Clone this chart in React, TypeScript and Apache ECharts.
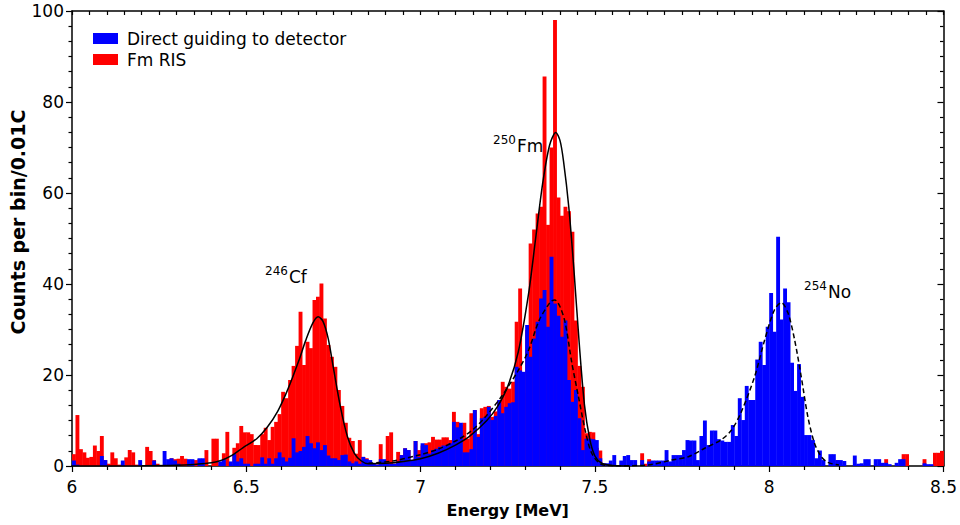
import React, { useEffect, useRef } from 'react';
import * as echarts from 'echarts';

// Histogram bins: 0.01 MeV wide, starting at 6.00 MeV
const BIN_START = 6.0;
const BIN_WIDTH = 0.01;

// Fm RIS counts per bin (red)
const fmRis: number[] = [
  2.6, 11.2, 3.7, 3.0, 1.8, 2.0, 4.5, 3.3, 6.6, 1.3,
  0.5, 3.0, 1.7, 0.3, 0, 1.9, 3.5, 3.0, 0.3, 0,
  0, 4.2, 3.3, 1.3, 0.5, 0, 0, 0, 1.7, 1.5,
  1.6, 2.2, 1.6, 0, 0, 1.3, 1.5, 0, 3.5, 0,
  6.0, 6.0, 0, 2.8, 7.5, 0, 4.0, 5.0, 8.8, 7.4,
  7.4, 7.0, 4.6, 4.6, 7.0, 8.4, 5.7, 8.6, 9.7, 11.4,
  16.3, 14.9, 18.9, 22.0, 26.4, 33.9, 22.2, 27.3, 25.9, 36.5,
  37.2, 40.1, 32.4, 26.6, 24.0, 21.8, 16.7, 13.2, 9.5, 6.2,
  5.5, 2.7, 5.7, 2.0, 1.7, 0.5, 0.5, 0.3, 4.8, 1.0,
  6.6, 7.4, 0.5, 3.1, 2.4, 3.9, 3.5, 1.3, 5.5, 3.5,
  4.5, 5.0, 5.2, 6.4, 5.8, 5.8, 6.3, 6.3, 5.7, 11.9,
  9.7, 9.0, 9.5, 6.0, 11.6, 12.3, 7.0, 12.7, 13.0, 13.2,
  10.8, 12.0, 14.5, 18.5, 17.4, 17.0, 18.5, 31.7, 39.0, 16.0,
  29.9, 48.9, 52.0, 55.5, 57.0, 85.6, 53.0, 70.0, 98.0, 59.0,
  55.0, 57.0, 56.0, 51.5, 32.0, 22.0, 17.4, 7.2, 7.5, 7.4,
  4.0, 3.4, 0.5, 0, 0, 0, 0, 0, 0, 0,
  0, 0, 0, 2.8, 0.5, 1.5, 0, 0, 0, 0,
  0, 0, 0, 0, 0, 0, 0, 0, 0, 0,
  0, 0, 0, 0, 0, 0, 0, 0, 0, 0,
  0, 0, 0, 0, 0, 0, 0, 0, 0, 0,
  0, 0, 0, 0, 0, 0, 0, 0, 0, 0,
  0, 0, 0, 0, 0, 0, 0, 0, 0, 1.3,
  0, 0, 0, 0, 0, 0, 0, 0, 0, 0,
  0, 0, 0, 1.5, 0, 0, 0, 0, 2.6, 2.6,
  0, 0, 0, 0, 1.5, 0, 0, 2.9, 2.9, 3.3,
];

// Direct guiding to detector counts per bin (blue)
const directGuiding: number[] = [
  1.2, 0.3, 0, 0, 0, 0, 0, 0, 2.2, 1.3,
  0, 0, 0, 0, 1.2, 0, 0, 0, 0, 1.3,
  0, 0, 0, 1.2, 0, 0, 3.3, 1.5, 1.7, 1.2,
  0.5, 0, 0, 1.5, 1.5, 0, 1.7, 1.7, 0, 0,
  0, 0, 1.0, 1.5, 0, 1.0, 2.6, 1.0, 1.7, 0.5,
  0.5, 0, 0.5, 0.5, 1.9, 0.5, 1.7, 0.5, 1.7, 3.0,
  1.9, 1.0, 1.8, 6.1, 3.0, 3.3, 4.2, 6.6, 5.0, 3.9,
  5.2, 3.5, 4.6, 2.3, 1.7, 1.7, 1.3, 2.4, 2.5, 1.0,
  0.6, 1.0, 0.5, 2.0, 1.5, 1.3, 0.5, 0.3, 1.5, 1.5,
  0.5, 0.5, 0.5, 1.0, 2.4, 3.9, 3.5, 1.3, 5.5, 2.0,
  5.0, 4.6, 2.7, 3.5, 3.8, 4.2, 4.5, 4.5, 5.0, 9.7,
  8.5, 9.5, 3.0, 3.0, 3.7, 12.3, 6.4, 10.5, 10.8, 13.0,
  10.1, 11.0, 14.5, 11.6, 13.0, 13.8, 14.0, 21.8, 21.0, 20.7,
  31.0, 24.0, 28.0, 31.7, 36.8, 38.7, 30.6, 46.0, 35.7, 33.0,
  28.4, 32.0, 18.9, 14.1, 16.7, 10.5, 3.5, 6.0, 6.0, 5.9,
  5.7, 1.7, 0.6, 0.6, 1.2, 2.4, 0, 1.2, 2.2, 2.4,
  1.3, 1.3, 0, 1.3, 0, 1.0, 1.2, 1.2, 1.2, 1.2,
  3.5, 1.0, 2.4, 2.4, 2.4, 3.5, 5.7, 5.6, 5.6, 1.3,
  6.6, 10.0, 4.6, 7.8, 7.8, 5.9, 5.6, 5.3, 5.3, 9.0,
  6.6, 14.9, 10.1, 17.6, 14.5, 14.5, 23.4, 27.3, 22.2, 30.6,
  38.0, 29.5, 50.4, 32.2, 39.0, 36.0, 22.7, 16.5, 22.4, 15.2,
  6.8, 6.8, 5.7, 1.7, 3.4, 1.3, 0, 2.6, 2.6, 1.3,
  1.3, 1.1, 0, 0, 2.3, 0.5, 0.6, 1.5, 1.5, 0,
  1.5, 1.5, 0.7, 0.7, 0.4, 0, 0.7, 1.5, 1.5, 0,
  0, 0, 0, 0, 0.6, 0.4, 0.4, 0, 0, 0,
];

// Fit to Fm RIS spectrum (solid line)
const fitRisX: number[] = [
  6.0, 6.2, 6.3, 6.35, 6.4, 6.43, 6.46, 6.49, 6.53, 6.56, 6.59, 6.62, 6.65, 6.67, 6.69,
  6.706, 6.72, 6.735, 6.75, 6.77, 6.79, 6.81, 6.83, 6.85, 6.9, 6.95, 7.0, 7.05,
  7.1, 7.14, 7.19, 7.22, 7.25, 7.28, 7.31, 7.33, 7.35, 7.37, 7.388, 7.4, 7.41,
  7.425, 7.44, 7.455, 7.47, 7.485, 7.5, 7.52, 7.55, 7.6,
];
const fitRisY: number[] = [
  0, 0.05, 0.15, 0.35, 0.7, 1.3, 2.4, 4.0, 6.0, 8.5, 12.0, 17.0, 23.0, 27.5, 31.3,
  32.8, 31.8, 28.0, 21.5, 13.0, 6.5, 2.8, 1.1, 0.5, 0.6, 1.0, 1.6, 2.8,
  4.6, 6.5, 10.0, 13.0, 17.5, 25.0, 38.0, 50.0, 62.0, 70.5, 73.3, 71.5, 67.0,
  57.0, 43.0, 27.0, 13.5, 6.0, 2.2, 0.6, 0.1, 0,
];

// Fit to direct guiding spectrum (dashed line)
const fitDirectX: number[] = [
  6.85, 6.92, 7.0, 7.05, 7.11, 7.15, 7.186, 7.234, 7.28, 7.31, 7.34, 7.373, 7.385,
  7.4, 7.415, 7.434, 7.453, 7.472, 7.491, 7.52, 7.56, 7.65, 7.72, 7.77, 7.815,
  7.863, 7.892, 7.92, 7.958, 7.987, 8.015, 8.035, 8.054, 8.073, 8.092, 8.111,
  8.13, 8.149, 8.168, 8.2,
];
const fitDirectY: number[] = [
  0.6, 1.1, 2.5, 3.7, 5.9, 8.0, 10.8, 15.5, 21.0, 25.5, 32.0, 36.1, 36.5,
  35.0, 31.4, 22.6, 15.2, 7.9, 2.8, 0.3, 0.05, 0.2, 1.3, 2.1, 3.9,
  5.8, 7.9, 11.9, 19.6, 27.7, 34.3, 35.9, 33.6, 27.7, 19.6, 10.8,
  5.0, 2.1, 0.8, 0.2,
];

const seriesNames = ['Direct guiding to detector', 'Fm RIS'];
const FONT = '"DejaVu Sans", Verdana, sans-serif';

const binData = (vals: number[]) => vals.map((v, i) => [BIN_START + i * BIN_WIDTH, v]);

const renderBin = (_params: any, api: any) => {
  const x0 = api.value(0);
  const v = api.value(1);
  if (!v) return null;
  const p0 = api.coord([x0, v]);
  const p1 = api.coord([x0 + BIN_WIDTH, 0]);
  return {
    type: 'rect',
    shape: { x: p0[0], y: p0[1], width: p1[0] - p0[0] + 0.4, height: p1[1] - p0[1] },
    style: { fill: api.visual('color') },
  };
};

const txt = (x: number, y: number, text: string, size: number, align: string) => ({
  type: 'text', x, y,
  style: {
    text, font: `${size}px ${FONT}`, fill: '#000',
    textAlign: align, textVerticalAlign: 'middle', align, verticalAlign: 'middle',
  },
});

export default function App() {
  const ref = useRef<HTMLDivElement>(null);
  useEffect(() => {
    const chart = echarts.init(ref.current!, null, { renderer: 'svg' });
    const axisLineStyle = { color: '#000', width: 1.5 };
    const tickStyle = { color: '#000', width: 1.2 };
    const option: any = {
      animation: false,
      backgroundColor: '#fff',
      grid: { left: 72, right: 14, top: 11, bottom: 59 },
      legend: {
        data: seriesNames,
        orient: 'vertical',
        left: 88,
        top: 23,
        itemWidth: 25,
        itemHeight: 11,
        itemGap: 0,
        icon: 'rect',
        textStyle: { fontFamily: FONT, fontSize: 17, color: '#000', lineHeight: 21, padding: [0, 0, 0, 4] },
        selectedMode: false,
      },
      xAxis: [
        {
          type: 'value', min: 6, max: 8.5, interval: 0.5, position: 'bottom',
          axisLine: { show: true, onZero: false, lineStyle: axisLineStyle },
          axisTick: { show: true, inside: false, length: 6, lineStyle: tickStyle },
          minorTick: { show: true, splitNumber: 5, length: 4, lineStyle: tickStyle },
          axisLabel: { color: '#000', fontSize: 17, fontFamily: FONT, margin: 12 },
          splitLine: { show: false },
          name: 'Energy [MeV]', nameLocation: 'middle', nameGap: 36,
          nameTextStyle: { fontFamily: FONT, fontSize: 16, fontWeight: 'bold', color: '#000' },
        },
        {
          type: 'value', min: 6, max: 8.5, interval: 0.5, position: 'top',
          axisLine: { show: true, onZero: false, lineStyle: axisLineStyle },
          axisTick: { show: true, inside: true, length: 4, lineStyle: tickStyle },
          minorTick: { show: true, splitNumber: 10, length: 4, lineStyle: tickStyle },
          axisLabel: { show: false },
          splitLine: { show: false },
        },
      ],
      yAxis: [
        {
          type: 'value', min: 0, max: 100, interval: 20, position: 'left',
          axisLine: { show: true, onZero: false, lineStyle: axisLineStyle },
          axisTick: { show: true, inside: false, length: 6, lineStyle: tickStyle },
          minorTick: { show: true, splitNumber: 6, length: 3.5, lineStyle: tickStyle },
          axisLabel: { color: '#000', fontSize: 17, fontFamily: FONT, margin: 8 },
          splitLine: { show: false },
        },
        {
          type: 'value', min: 0, max: 100, interval: 20, position: 'right',
          axisLine: { show: true, onZero: false, lineStyle: axisLineStyle },
          axisTick: { show: true, inside: true, length: 6, lineStyle: tickStyle },
          minorTick: { show: true, splitNumber: 6, length: 3.5, lineStyle: tickStyle },
          axisLabel: { show: false },
          splitLine: { show: false },
        },
      ],
      series: [
        {
          name: 'Fm RIS', type: 'custom', renderItem: renderBin, clip: true,
          itemStyle: { color: '#ff0000' }, data: binData(fmRis), z: 2,
          encode: { x: 0, y: 1 },
        },
        {
          name: 'Direct guiding to detector', type: 'custom', renderItem: renderBin, clip: true,
          itemStyle: { color: '#0000ff' }, data: binData(directGuiding), z: 3,
          encode: { x: 0, y: 1 },
        },
        {
          name: 'fitRis', type: 'line', showSymbol: false, smooth: 0.3, z: 5,
          lineStyle: { color: '#000', width: 1.5 },
          data: fitRisX.map((x, i) => [x, fitRisY[i]]),
        },
        {
          name: 'fitDirect', type: 'line', showSymbol: false, smooth: 0.3, z: 5,
          lineStyle: { color: '#000', width: 1.5, type: [5, 3] },
          data: fitDirectX.map((x, i) => [x, fitDirectY[i]]),
        },
      ],
      graphic: [
        {
          type: 'text', x: 18, y: 222, rotation: Math.PI / 2,
          style: { text: 'Counts per bin/0.01C', font: `bold 19px ${FONT}`, fill: '#000', textAlign: 'center', textVerticalAlign: 'middle', align: 'center', verticalAlign: 'middle' },
        },
        txt(288, 271, '246', 12, 'right'),
        txt(289, 277, 'Cf', 17, 'left'),
        txt(516, 140, '250', 12, 'right'),
        txt(517, 146, 'Fm', 17, 'left'),
        txt(827, 286, '254', 12, 'right'),
        txt(828, 292, 'No', 17, 'left'),
      ],
    };
    chart.setOption(option);
    return () => chart.dispose();
  }, []);
  return <div ref={ref} style={{ position: 'absolute', left: 0, top: 0, width: 960, height: 525 }} />;
}
